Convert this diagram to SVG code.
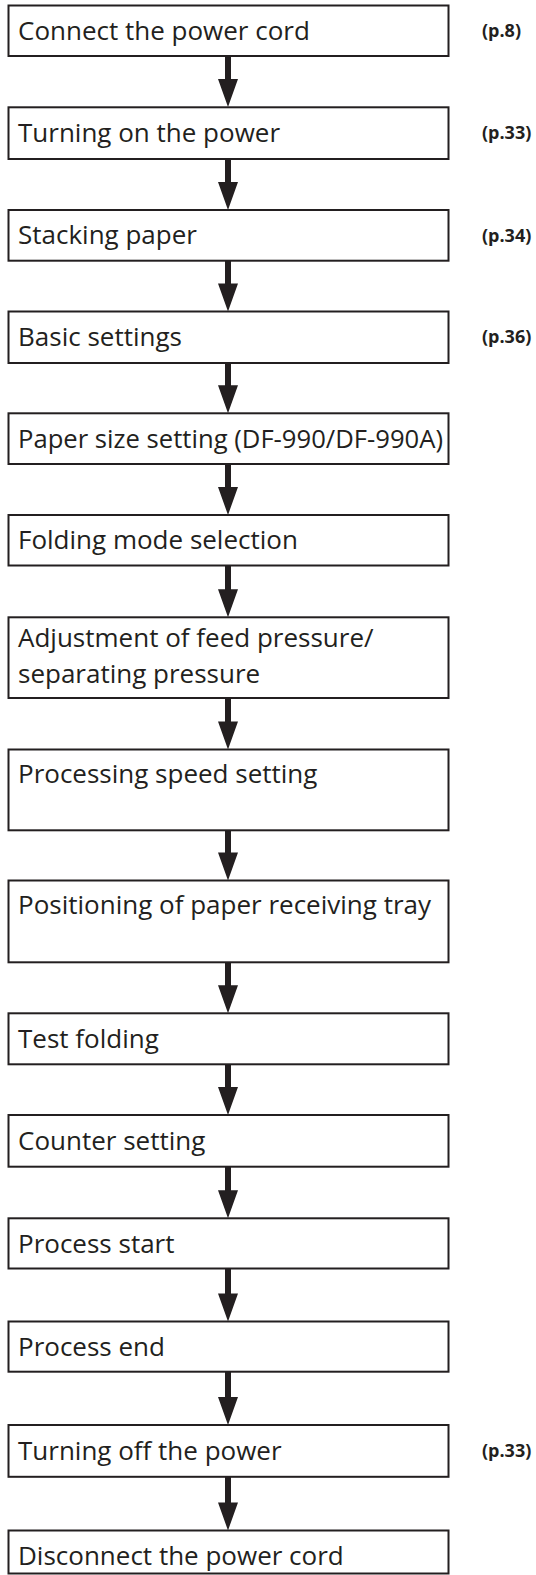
<svg xmlns="http://www.w3.org/2000/svg" width="536" height="1575" viewBox="0 0 536 1575">
<style>
.box{fill:#fff;stroke:#231f20;stroke-width:2}
.t{font-family:"Open Sans","Liberation Sans",sans-serif;font-size:26px;fill:#231f20}
.p{font-family:"Open Sans","Liberation Sans",sans-serif;font-size:18px;font-weight:bold;fill:#231f20}
.arr{fill:#231f20}
</style>
<rect width="536" height="1575" fill="#fff"/>
<g id="connectors">
<path class="arr" d="M225 56V79H218L228 107L238 79H231V56Z"/>
<path class="arr" d="M225 159V182H218L228 210L238 182H231V159Z"/>
<path class="arr" d="M225 260.7V283.5H218L228 311.5L238 283.5H231V260.7Z"/>
<path class="arr" d="M225 363V385.3H218L228 413.3L238 385.3H231V363Z"/>
<path class="arr" d="M225 464V487H218L228 515L238 487H231V464Z"/>
<path class="arr" d="M225 565.5V589.3H218L228 617.3L238 589.3H231V565.5Z"/>
<path class="arr" d="M225 698V721.5H218L228 749.5L238 721.5H231V698Z"/>
<path class="arr" d="M225 830.3V852.5H218L228 880.5L238 852.5H231V830.3Z"/>
<path class="arr" d="M225 962.3V985.3H218L228 1013.3L238 985.3H231V962.3Z"/>
<path class="arr" d="M225 1064.3V1087H218L228 1115L238 1087H231V1064.3Z"/>
<path class="arr" d="M225 1166.7V1190.3H218L228 1218.3L238 1190.3H231V1166.7Z"/>
<path class="arr" d="M225 1268.5V1293.5H218L228 1321.5L238 1293.5H231V1268.5Z"/>
<path class="arr" d="M225 1371.7V1397H218L228 1425L238 1397H231V1371.7Z"/>
<path class="arr" d="M225 1476.8V1502.5H218L228 1530.5L238 1502.5H231V1476.8Z"/>
</g>
<g id="n1"><rect class="box" x="8.5" y="5.5" width="440" height="50.5"/><text class="t" x="18" y="39.5">Connect the power cord</text><text class="p" x="482" y="37">(p.8)</text></g>
<g id="n2"><rect class="box" x="8.5" y="107.3" width="440" height="51.7"/><text class="t" x="18" y="141.5">Turning on the power</text><text class="p" x="482" y="139">(p.33)</text></g>
<g id="n3"><rect class="box" x="8.5" y="210" width="440" height="50.7"/><text class="t" x="18" y="244">Stacking paper</text><text class="p" x="482" y="241.5">(p.34)</text></g>
<g id="n4"><rect class="box" x="8.5" y="311.5" width="440" height="51.5"/><text class="t" x="18" y="345.5">Basic settings</text><text class="p" x="482" y="343">(p.36)</text></g>
<g id="n5"><rect class="box" x="8.5" y="413.3" width="440" height="50.7"/><text class="t" x="18" y="447.5" textLength="425" lengthAdjust="spacingAndGlyphs">Paper size setting (DF-990/DF-990A)</text></g>
<g id="n6"><rect class="box" x="8.5" y="515" width="440" height="50.5"/><text class="t" x="18" y="549">Folding mode selection</text></g>
<g id="n7"><rect class="box" x="8.5" y="617.3" width="440" height="80.7"/><text class="t" x="18" y="646.5">Adjustment of feed pressure/</text><text class="t" x="18" y="683">separating pressure</text></g>
<g id="n8"><rect class="box" x="8.5" y="749.5" width="440" height="80.8"/><text class="t" x="18" y="783">Processing speed setting</text></g>
<g id="n9"><rect class="box" x="8.5" y="880.5" width="440" height="81.8"/><text class="t" x="18" y="914">Positioning of paper receiving tray</text></g>
<g id="n10"><rect class="box" x="8.5" y="1013.3" width="440" height="51"/><text class="t" x="18" y="1047.5">Test folding</text></g>
<g id="n11"><rect class="box" x="8.5" y="1115" width="440" height="51.7"/><text class="t" x="18" y="1149.5">Counter setting</text></g>
<g id="n12"><rect class="box" x="8.5" y="1218.3" width="440" height="50.2"/><text class="t" x="18" y="1252.5">Process start</text></g>
<g id="n13"><rect class="box" x="8.5" y="1321.5" width="440" height="50.2"/><text class="t" x="18" y="1355.5">Process end</text></g>
<g id="n14"><rect class="box" x="8.5" y="1425" width="440" height="51.8"/><text class="t" x="18" y="1459.5">Turning off the power</text><text class="p" x="482" y="1457">(p.33)</text></g>
<g id="n15"><rect class="box" x="8.5" y="1530.5" width="440" height="43"/><text class="t" x="18" y="1564.5">Disconnect the power cord</text></g>
</svg>
